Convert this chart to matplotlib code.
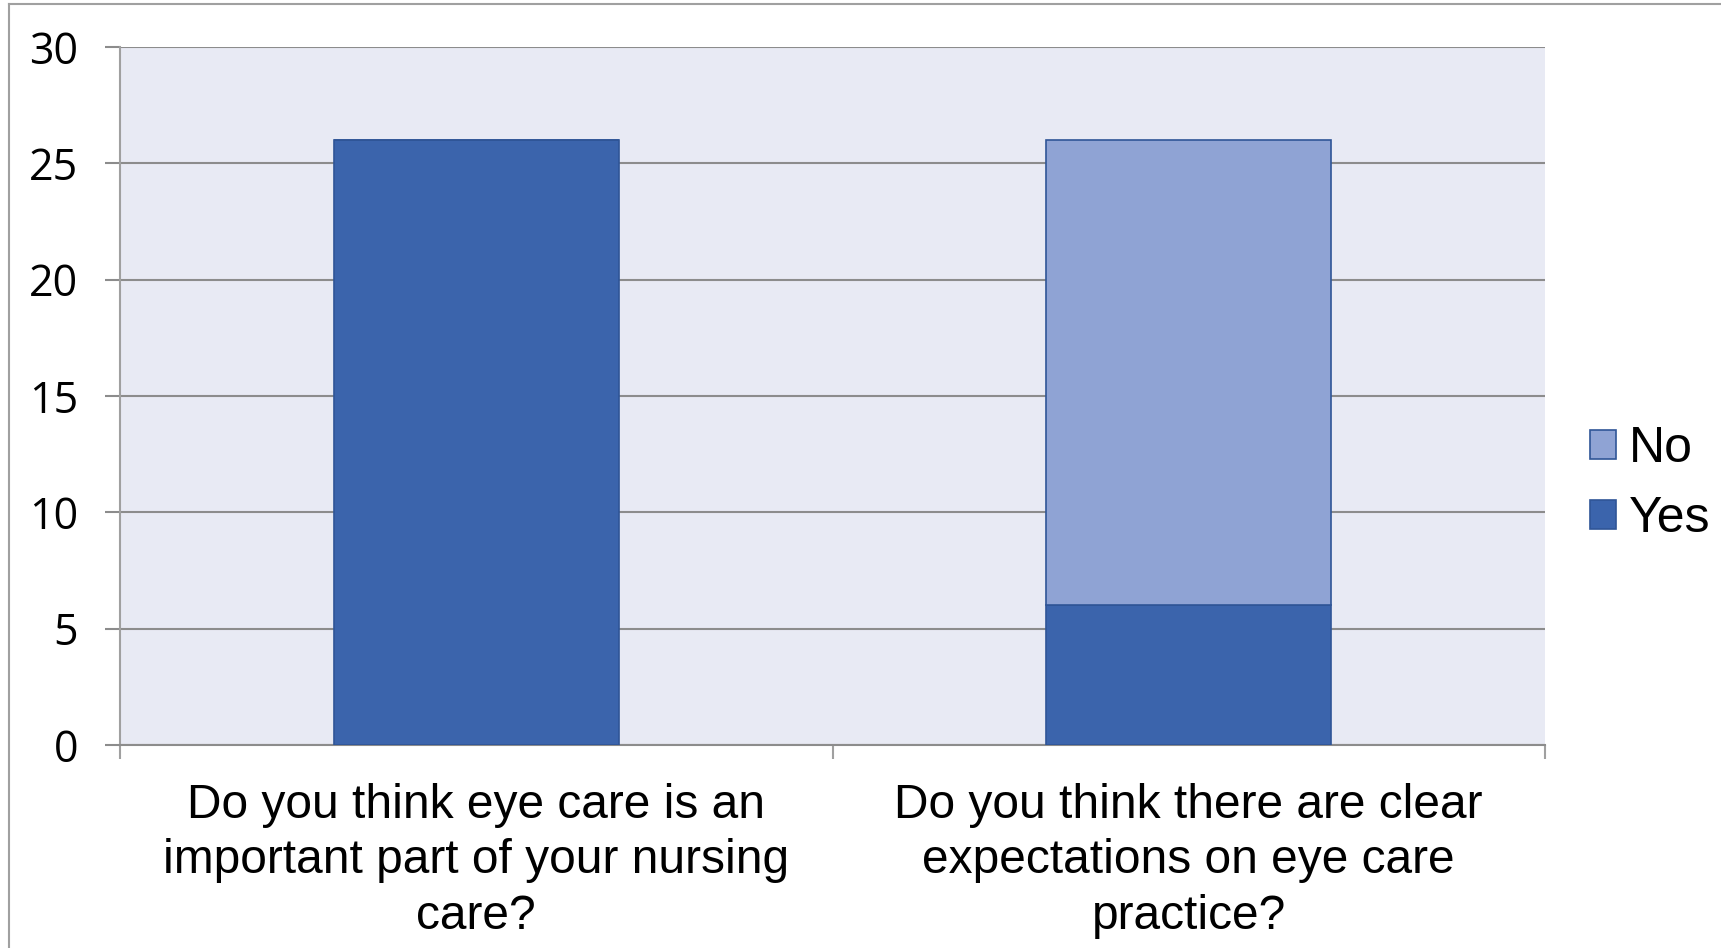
import matplotlib
matplotlib.use("Agg")
import matplotlib.pyplot as plt
from matplotlib.lines import Line2D
import numpy as np

categories = ["Do you think eye care is an\nimportant part of your nursing\ncare?",
              "Do you think there are clear\nexpectations on eye care\npractice?"]
yes_values = [26, 6]
no_values = [0, 20]
yticks = [0, 5, 10, 15, 20, 25, 30]

dark = "#3B64AC"
light = "#8FA3D4"
edge_dark = "#2F5597"
grid_c = "#8C8C8C"

fig = plt.figure(figsize=(17.21, 9.48), dpi=100)
ax = fig.add_axes([120/1721, 1-745/948, (1545-120)/1721, (745-47)/948])
ax.set_facecolor("#E8EAF4")

x = np.arange(len(categories))
b1 = ax.bar(x, yes_values, width=0.4, color=dark, edgecolor=edge_dark, linewidth=1.2, label="Yes", zorder=3)
b2 = ax.bar(x, no_values, width=0.4, bottom=yes_values, color=light, edgecolor=edge_dark, linewidth=1.2, label="No", zorder=3)

ax.set_xlim(-0.5, 1.5)
ax.set_ylim(0, 30)
ax.set_yticks(yticks)
ax.yaxis.grid(True, color=grid_c, linewidth=1.5, zorder=1)
ax.set_axisbelow(True)
for s in ["top", "right"]:
    ax.spines[s].set_visible(False)
ax.spines["left"].set_color("#A0A0A0")
ax.spines["left"].set_linewidth(1.5)
ax.spines["bottom"].set_color(grid_c)
ax.spines["bottom"].set_linewidth(1.5)

ax.tick_params(axis="y", length=11, width=1.5, color=grid_c, pad=19, labelsize=31)
for t in ax.get_yticklabels():
    t.set_fontfamily("Open Sans")

ax.set_xticks(x)
ax.set_xticklabels(categories, fontsize=34.5, fontfamily="Liberation Sans", linespacing=1.31)
ax.tick_params(axis="x", which="major", length=0, pad=27)
ax.set_xticks([-0.5, 0.5, 1.5], minor=True)
ax.tick_params(axis="x", which="minor", length=10, width=1.5, color="#A0A0A0")

handles = [b2, b1]
leg = fig.legend(handles, ["No", "Yes"], loc="center left", bbox_to_anchor=(1590/1721, 1-484/948),
                 frameon=False, prop={"family": "Liberation Sans", "size": 36},
                 borderpad=0, borderaxespad=0,
                 handlelength=0.52, handleheight=0.52, handletextpad=0.25, labelspacing=0.48)

# figure frame lines
fig.add_artist(Line2D([9/1721, 9/1721], [0, 1-4/948], transform=fig.transFigure, color="#A0A0A0", linewidth=1.5))
fig.add_artist(Line2D([9/1721, 1], [1-4/948, 1-4/948], transform=fig.transFigure, color="#A0A0A0", linewidth=1.5))

fig.savefig("out.png", dpi=100)
